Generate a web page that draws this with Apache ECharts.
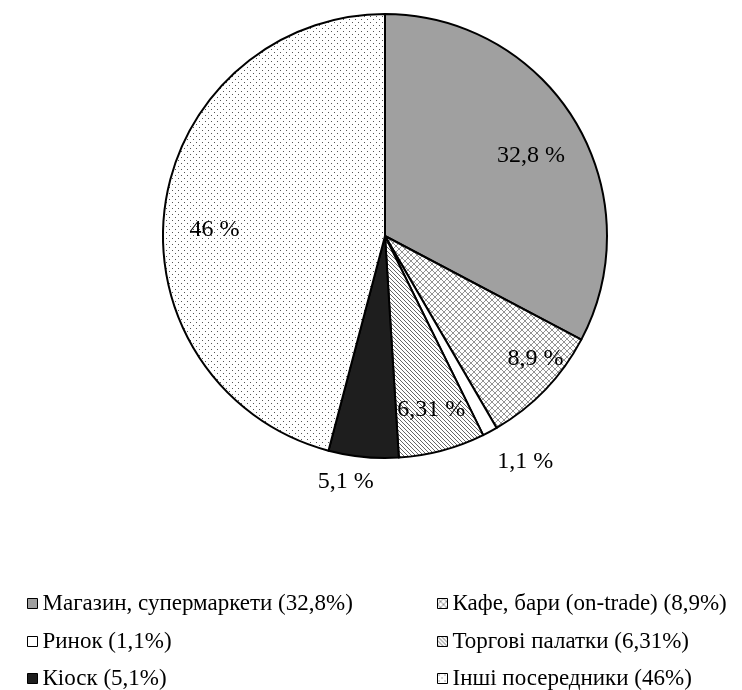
<!DOCTYPE html>
<html>
<head>
<meta charset="utf-8">
<script src="https://cdn.jsdelivr.net/npm/echarts@6/dist/echarts.min.js"></script>
<style>
html,body{margin:0;padding:0;background:#fff;}
#chart{width:742px;height:690px;}
</style>
</head>
<body>
<div id="chart"></div>
<script>
// ---- data ----
const categories = ['Магазин, супермаркети', 'Кафе, бари (on-trade)', 'Ринок', 'Торгові палатки', 'Кіоск', 'Інші посередники'];
const shares = [32.8, 8.9, 1.1, 6.31, 5.1, 46];

// ---- styles / layout ----
const labelRadius = [165, 193, 262, 177, 247, 172];
const labelShift = [[2, 6], [9, -13], [15, -8], [0, 0], [-15, -3], [3, 16]];
const legendCol = [22, 432, 22, 432, 22, 432];
const legendRow = [587, 587, 625, 625, 662, 662];
const FONT = '"Liberation Serif", "Times New Roman", serif';

function makeTile(w, h, draw) {
  const c = document.createElement('canvas');
  c.width = w; c.height = h;
  const ctx = c.getContext('2d');
  draw(ctx, w, h);
  return { image: c, repeat: 'repeat' };
}
const patGray = '#a0a0a0';
const patCross = makeTile(6, 6, (ctx, w, h) => {
  ctx.fillStyle = '#fff'; ctx.fillRect(0, 0, w, h);
  ctx.strokeStyle = '#777'; ctx.lineWidth = 0.8;
  ctx.beginPath();
  ctx.moveTo(0, h); ctx.lineTo(w, 0);
  ctx.moveTo(-1, 1); ctx.lineTo(1, -1);
  ctx.moveTo(w - 1, h + 1); ctx.lineTo(w + 1, h - 1);
  ctx.moveTo(0, 0); ctx.lineTo(w, h);
  ctx.stroke();
});
const patWhite = '#ffffff';
const patHatch = makeTile(4, 4, (ctx, w, h) => {
  ctx.fillStyle = '#fff'; ctx.fillRect(0, 0, w, h);
  ctx.strokeStyle = '#666'; ctx.lineWidth = 1;
  ctx.beginPath();
  ctx.moveTo(0, 0); ctx.lineTo(w, h);
  ctx.moveTo(-1, h - 1); ctx.lineTo(1, h + 1);
  ctx.moveTo(w - 1, -1); ctx.lineTo(w + 1, 1);
  ctx.stroke();
});
const patBlack = '#1e1e1e';
const patDots = makeTile(6, 6, (ctx, w, h) => {
  ctx.fillStyle = '#fff'; ctx.fillRect(0, 0, w, h);
  ctx.fillStyle = '#555';
  ctx.fillRect(1, 1, 1, 1);
  ctx.fillRect(4, 4, 1, 1);
});
const fills = [patGray, patCross, patWhite, patHatch, patBlack, patDots];

const fmt = v => String(v).replace('.', ',');
const CENTER = [385, 236];
const R = 222;

const mainData = categories.map((n, i) => ({ name: n, value: shares[i], itemStyle: { color: fills[i] } }));

const series = [{
  type: 'pie',
  center: CENTER,
  radius: [0, R],
  startAngle: 90,
  clockwise: true,
  silent: true,
  label: { show: false },
  labelLine: { show: false },
  itemStyle: { borderColor: '#000', borderWidth: 2 },
  emphasis: { disabled: true },
  data: mainData
}];

categories.forEach((n, k) => {
  series.push({
    type: 'pie',
    center: CENTER,
    radius: [0, labelRadius[k] * 2],
    startAngle: 90,
    clockwise: true,
    silent: true,
    emphasis: { disabled: true },
    itemStyle: { color: 'rgba(0,0,0,0)', borderWidth: 0 },
    labelLine: { show: false },
    labelLayout: { dx: labelShift[k][0], dy: labelShift[k][1] },
    z: 5,
    data: shares.map((v, i) => ({
      name: 'lbl' + k + '_' + i,
      value: v,
      label: {
        show: i === k,
        position: 'inside',
        formatter: () => fmt(v) + ' %',
        color: '#000',
        fontFamily: FONT,
        fontSize: 24
      }
    }))
  });
});

const legends = categories.map((n, i) => ({
  orient: 'horizontal',
  left: legendCol[i],
  top: legendRow[i],
  itemWidth: 10,
  itemHeight: 10,
  icon: 'rect',
  selectedMode: false,
  itemStyle: { borderColor: '#000', borderWidth: 1 },
  textStyle: { fontFamily: FONT, fontSize: 23, color: '#000' },
  formatter: name => name + ' (' + fmt(shares[categories.indexOf(name)]) + '%)',
  data: [n]
}));

const option = {
  backgroundColor: '#fff',
  animation: false,
  legend: legends,
  series: series
};

const chart = echarts.init(document.getElementById('chart'), null, { renderer: 'canvas' });
chart.setOption(option);
</script>
</body>
</html>
